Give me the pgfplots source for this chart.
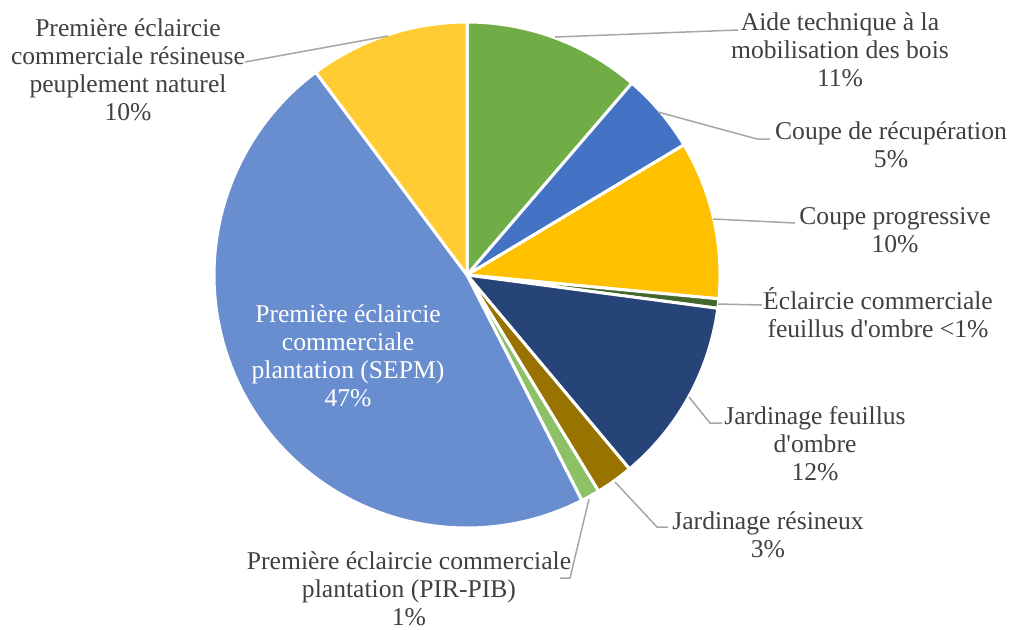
\documentclass[border=0pt]{standalone}
\usepackage{pgfplots}
\pgfplotsset{compat=1.18}
\usepackage{fontspec}
\setmainfont{Liberation Serif}
\definecolor{cA}{HTML}{70AD47}
\definecolor{cB}{HTML}{4472C4}
\definecolor{cC}{HTML}{FFC000}
\definecolor{cD}{HTML}{43682B}
\definecolor{cE}{HTML}{264478}
\definecolor{cF}{HTML}{997300}
\definecolor{cG}{HTML}{8CC168}
\definecolor{cH}{HTML}{698ED0}
\definecolor{cI}{HTML}{FFCD33}
\definecolor{txt}{HTML}{404040}
\definecolor{lead}{HTML}{A6A6A6}
\newcommand\lbl{\fontsize{12.8pt}{14pt}\selectfont}
\gdef\cum{0}
\newcommand\slice[2]{%
  \pgfmathsetmacro\sa{90-3.6*\cum}%
  \pgfmathsetmacro\sb{90-3.6*(\cum+#1)}%
  \edef\doslice{\noexpand\addplot[fill=#2, draw=white, line width=1.5pt, line join=round, domain=\sb:\sa, samples=90] ({467+253*cos(x)},{275-253*sin(x)}) -- (axis cs:467,275) -- cycle;}%
  \doslice
  \pgfmathsetmacro\newcum{\cum+#1}%
  \global\let\cum\newcum
}
\begin{document}
\begin{tikzpicture}
\begin{axis}[
  scale only axis, width=505.5pt, height=314.5pt,
  xmin=0, xmax=1011, ymin=0, ymax=629, y dir=reverse,
  hide axis, clip=false]
% shares in percent, clockwise from 12 o'clock
\slice{11.3}{cA}
\slice{5.1}{cB}
\slice{10.1}{cC}
\slice{0.6}{cD}
\slice{11.8}{cE}
\slice{2.4}{cF}
\slice{1.2}{cG}
\slice{47.3}{cH}
\slice{10.2}{cI}
% leader lines
\draw[lead, line width=0.75pt] (axis cs:245,62) -- (axis cs:388,36);
\draw[lead, line width=0.75pt] (axis cs:555,37) -- (axis cs:738,30);
\draw[lead, line width=0.75pt] (axis cs:658,112) -- (axis cs:757,139) -- (axis cs:770,139);
\draw[lead, line width=0.75pt] (axis cs:713,219) -- (axis cs:795,223);
\draw[lead, line width=0.75pt] (axis cs:718,304) -- (axis cs:762,305);
\draw[lead, line width=0.75pt] (axis cs:689,397) -- (axis cs:710,423) -- (axis cs:722,423);
\draw[lead, line width=0.75pt] (axis cs:615,482) -- (axis cs:657,527) -- (axis cs:668,527);
\draw[lead, line width=0.75pt] (axis cs:589,499) -- (axis cs:570,578) -- (axis cs:560,578);
% labels
\begin{scope}[every node/.style={align=center, text=txt, font=\lbl, inner sep=0pt}]
\node at (axis cs:128,70) {Première éclaircie\\commerciale résineuse\\peuplement naturel\\10\%};
\node at (axis cs:840,50) {Aide technique à la\\mobilisation des bois\\11\%};
\node at (axis cs:891,145) {Coupe de récupération\\5\%};
\node at (axis cs:895,230) {Coupe progressive\\10\%};
\node at (axis cs:878,313) {Éclaircie commerciale\\feuillus d\textquotesingle ombre <1\%};
\node at (axis cs:815,444) {Jardinage feuillus\\d\textquotesingle ombre\\12\%};
\node at (axis cs:768,535) {Jardinage résineux\\3\%};
\node at (axis cs:409,589) {Première éclaircie commerciale\\plantation (PIR-PIB)\\1\%};
\node[text=white] at (axis cs:348,356) {Première éclaircie\\commerciale\\plantation (SEPM)\\47\%};
\end{scope}
\end{axis}
\pgfresetboundingbox
\path (current axis.south west) rectangle (current axis.north east);
\end{tikzpicture}
\end{document}
